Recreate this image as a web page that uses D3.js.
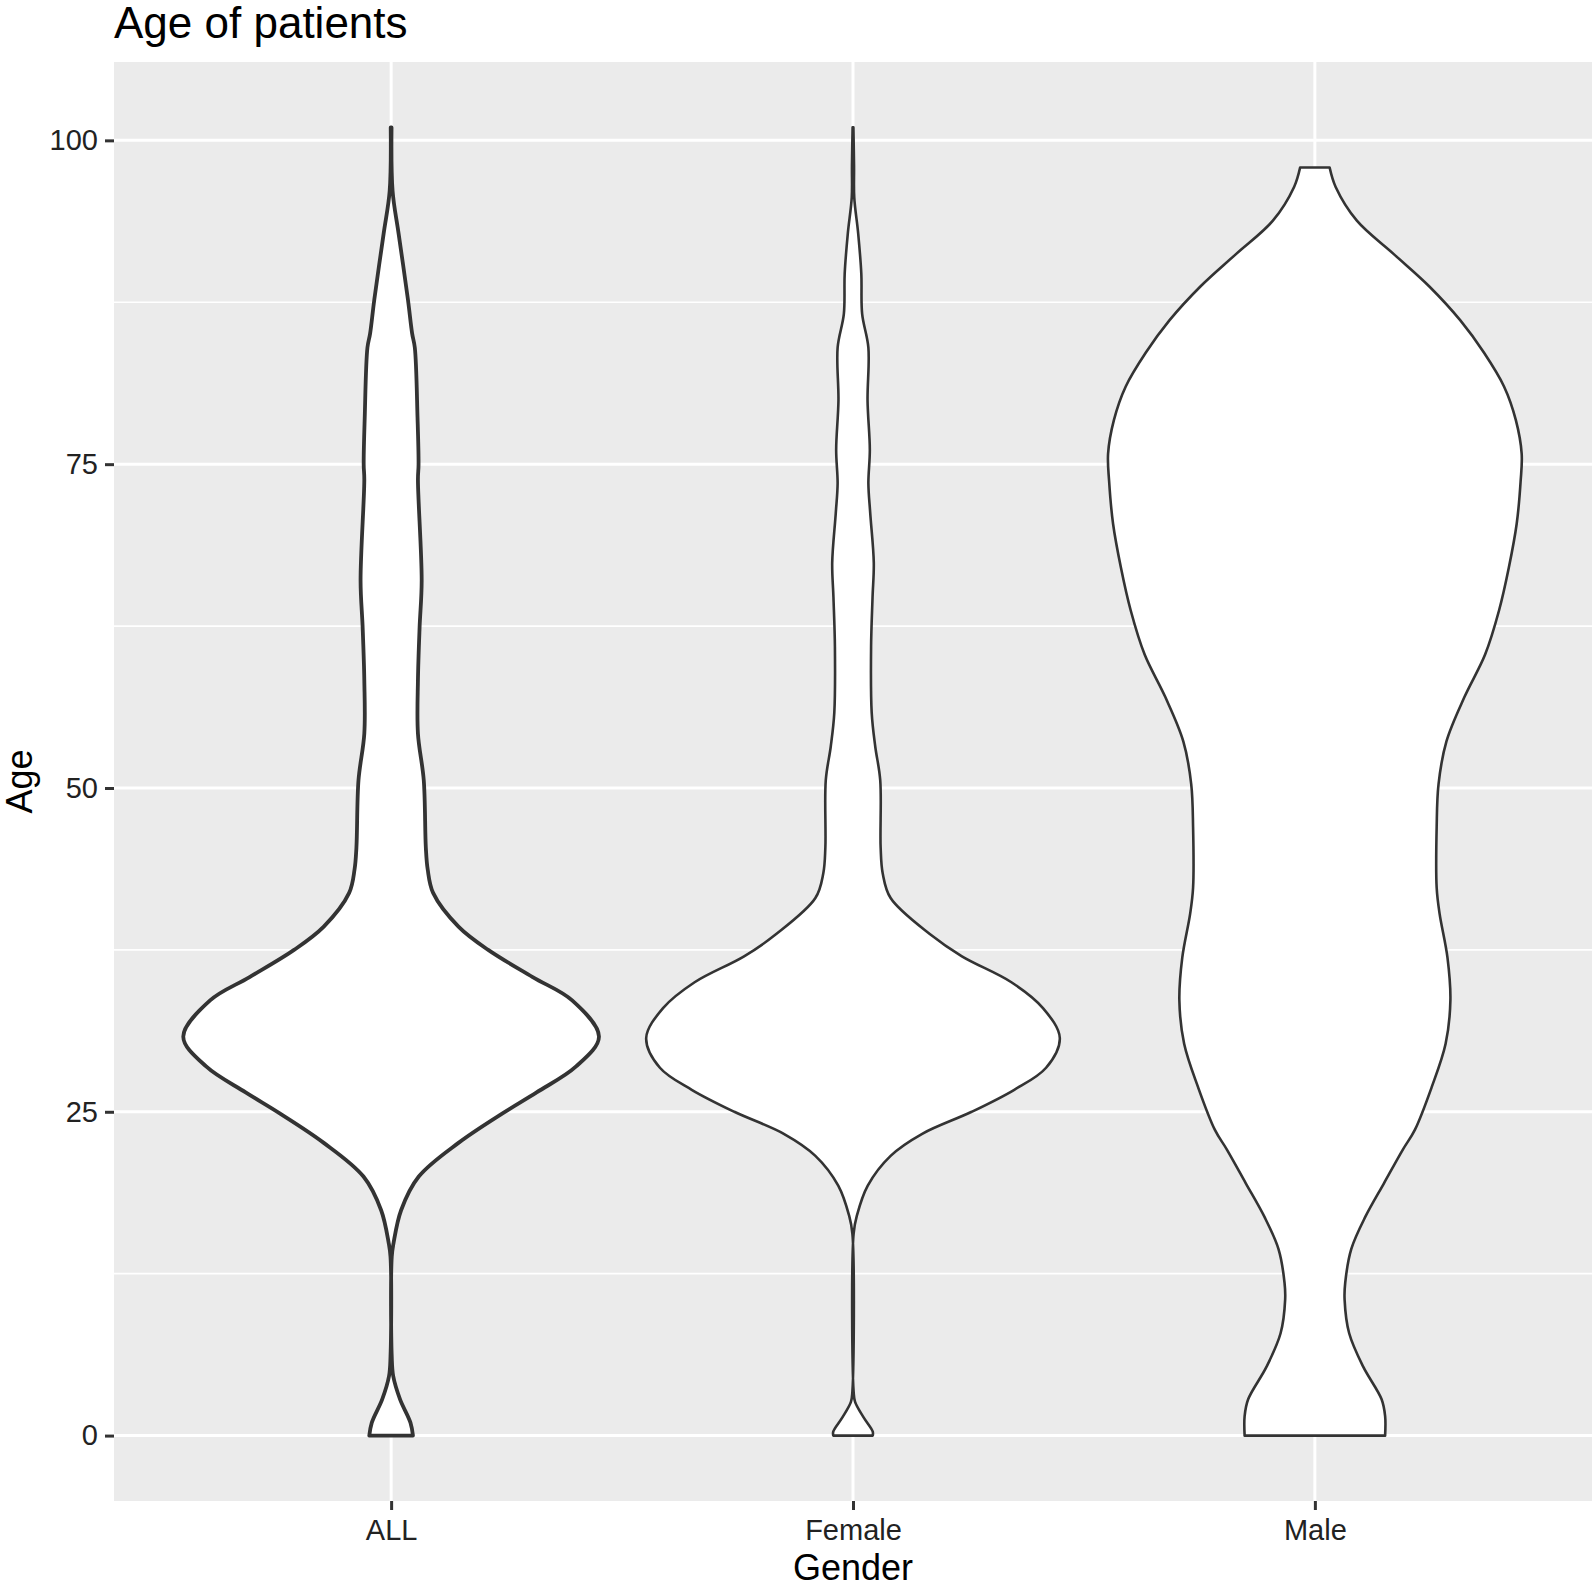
<!DOCTYPE html>
<html>
<head>
<meta charset="utf-8">
<style>
    body { margin: 0; background: #fff; }
    svg { display: block; font-family: 'Liberation Sans', Arial, sans-serif; }
    .panel { fill: #EBEBEB; }
    .grid-major { stroke: #fff; stroke-width: 3px; }
    .grid-minor { stroke: #fff; stroke-width: 1.7px; }
    .axis path.domain { display: none; }
    .axis line { stroke: #333; stroke-width: 3px; }
    .axis text { font-size: 29px; fill: #222; }
    .violin { fill: #fff; stroke: #333; }
    .title { font-size: 44px; fill: #000; }
    .axis-title { font-size: 36px; fill: #000; }
</style>
</head>
<body>
<svg id="chart" width="1594" height="1588"></svg>
<script src="https://cdnjs.cloudflare.com/ajax/libs/d3/7.8.5/d3.min.js"></script>
<script>
    // categories and tick values
    var groups = ['ALL', 'Female', 'Male'];
    var yTicks = [0, 25, 50, 75, 100];
    var yMinor = [12.5, 37.5, 62.5, 87.5];

    // violin outlines: age and relative density (max = 100)
    var allAge = [0, 1, 2.8, 4.6, 6.1, 13.8, 14.9, 17.4, 20, 22.6, 24.9, 26.5, 28.5, 30.8, 33.6, 35.4, 37.5, 39.3,
                  41.9, 43.7, 45.4, 50.6, 54.2, 58.3, 62.4, 66, 73.8, 75, 78.6, 84, 85.1, 87.7, 92.8, 96.1, 101];
    var allDens = [10.5, 9.3, 4.3, 1.0, 0.3, 0.3, 1.2, 4.8, 13.3, 32.4, 53.8, 70, 89, 100, 87.1, 68.1, 46.7, 32.4,
                   20.2, 17.6, 16.7, 15.7, 12.9, 12.9, 13.7, 14.7, 12.9, 13.2, 12.7, 11.4, 10.1, 8.1, 3.6, 0.7, 0.2];

    var femaleAge = [0, 0.3, 1.4, 2.6, 3.4, 15.6, 17, 19.3, 21.6, 23.3, 25, 26.7, 28.4, 30.7, 33, 35, 37, 38.7,
                     41.5, 43.4, 45.4, 50.6, 53.2, 55.8, 60.9, 64.7, 67.4, 71.2, 73.5, 76.1, 79.9, 84, 86.6, 89.7,
                     92.8, 95.6, 98, 101];
    var femaleDens = [9.5, 9.5, 5.1, 1.0, 0.3, 0.3, 1.9, 7.1, 18.1, 33.3, 57.1, 77.6, 92.9, 99.5, 91.4, 76.2, 52.4, 37.1,
                      18.1, 14.3, 13.3, 13.1, 10.7, 9.0, 8.7, 9.4, 10, 8.3, 7.4, 8.1, 7.0, 7.4, 4.4, 4.0,
                      2.5, 0.6, 0.5, 0.2];

    var maleAge = [0, 1.5, 2.8, 5.3, 7.9, 10.5, 11.8, 14.4, 16.9, 19.5, 22.1, 23.6, 26.9, 30.25, 33.6, 36.9, 40.3,
                   42.3, 47, 50.3, 53.6, 57, 60.3, 63.7, 67, 70.4, 73.7, 75.8, 78.4, 81, 83.6, 86.1, 88.7, 91.2,
                   93.8, 96.4, 97.9];
    var maleDens = [33.8, 33.8, 32.1, 23.3, 16.5, 14.3, 14.6, 17.5, 24.3, 33.3, 42.4, 48.1, 56.2, 62.9, 65.2, 63.8, 60,
                    58.6, 58.6, 59.5, 63.3, 71.9, 81.9, 88.6, 93.3, 97.1, 99, 99.5, 96.7, 91, 81.4, 70, 55.2, 38.1,
                    20.2, 10, 7.1];

    var series = [
        { name: 'ALL', age: allAge, dens: allDens, stroke: 3.8 },
        { name: 'Female', age: femaleAge, dens: femaleDens, stroke: 2.6 },
        { name: 'Male', age: maleAge, dens: maleDens, stroke: 2.6 }
    ];

    // panel edges (window.top is taken, so prefix them)
    var pLeft = 114, pRight = 1592, pTop = 62, pBottom = 1501;
    var svg = d3.select('#chart');

    var x = d3.scalePoint().domain(groups).range([pLeft, pRight]).padding(0.6);
    var y = d3.scaleLinear().domain([-5.05, 106.05]).range([pBottom, pTop]);
    var maxDens = d3.max(series, function(s) { return d3.max(s.dens); });
    var w = d3.scaleLinear().domain([0, maxDens]).range([0, x.step() * 0.45]);

    // panel + grid
    svg.append('rect').attr('class', 'panel')
        .attr('x', pLeft).attr('y', pTop)
        .attr('width', pRight - pLeft).attr('height', pBottom - pTop);
    svg.selectAll('.grid-minor').data(yMinor).enter().append('line')
        .attr('class', 'grid-minor')
        .attr('x1', pLeft).attr('x2', pRight)
        .attr('y1', function(d) { return y(d); }).attr('y2', function(d) { return y(d); });
    svg.selectAll('.grid-major.h').data(yTicks).enter().append('line')
        .attr('class', 'grid-major h')
        .attr('x1', pLeft).attr('x2', pRight)
        .attr('y1', function(d) { return y(d); }).attr('y2', function(d) { return y(d); });
    svg.selectAll('.grid-major.v').data(groups).enter().append('line')
        .attr('class', 'grid-major v')
        .attr('y1', pTop).attr('y2', pBottom)
        .attr('x1', function(d) { return x(d); }).attr('x2', function(d) { return x(d); });

    // violins
    series.forEach(function(s) {
        var pts = s.age.map(function(a, i) { return { age: a, d: s.dens[i] }; });
        var cx = x(s.name);
        var area = d3.area().curve(d3.curveCatmullRom.alpha(0.5))
            .y(function(d) { return y(d.age); })
            .x0(function(d) { return cx - w(d.d); })
            .x1(function(d) { return cx + w(d.d); });
        svg.append('path').datum(pts)
            .attr('class', 'violin')
            .attr('stroke-width', s.stroke)
            .attr('stroke-linejoin', 'round')
            .attr('d', area);
    });

    // axes
    svg.append('g').attr('class', 'axis')
        .attr('transform', 'translate(' + pLeft + ',0)')
        .call(d3.axisLeft(y).tickValues(yTicks).tickSize(9).tickPadding(7));
    svg.append('g').attr('class', 'axis')
        .attr('transform', 'translate(0,' + pBottom + ')')
        .call(d3.axisBottom(x).tickSize(9).tickPadding(9));

    // titles
    svg.append('text').attr('class', 'title')
        .attr('x', pLeft).attr('y', 38)
        .text('Age of patients');
    svg.append('text').attr('class', 'axis-title')
        .attr('x', (pLeft + pRight) / 2).attr('y', 1580)
        .style('text-anchor', 'middle')
        .text('Gender');
    svg.append('text').attr('class', 'axis-title')
        .attr('transform', 'translate(32,' + ((pTop + pBottom) / 2) + ') rotate(-90)')
        .style('text-anchor', 'middle')
        .text('Age');
</script>
</body>
</html>
